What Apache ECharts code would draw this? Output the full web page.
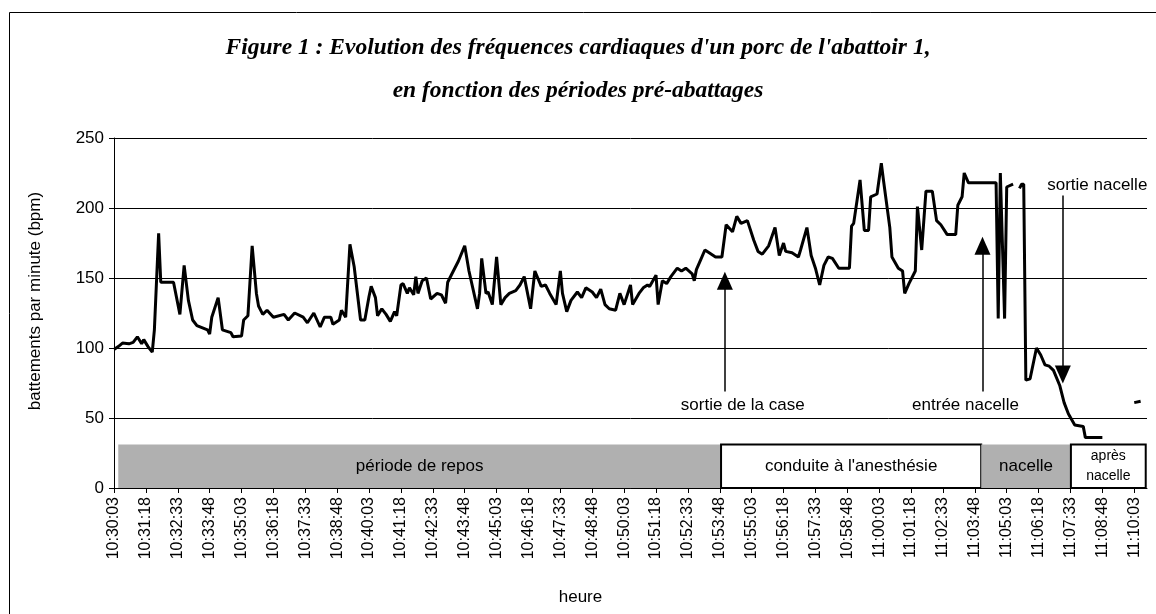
<!DOCTYPE html>
<html>
<head>
    <meta charset="utf-8">
    <script src="https://cdn.jsdelivr.net/npm/echarts@6.0.0/dist/echarts.min.js"></script>
</head>
<body style="margin:0;background:#fff;">
    <div id="main" style="width:1156px;height:614px;"></div>
    <script type="text/javascript">

// seconds after 10:30:03, and the heart rate read at that moment (null = no signal)
var secs = [0, 10, 20, 35, 45, 55, 65, 70, 80, 90,
    95, 105, 110, 140, 155, 165, 175, 185, 195, 220,
    225, 230, 245, 255, 275, 280, 300, 305, 315, 325,
    335, 340, 350, 360, 375, 400, 410, 425, 445, 455,
    470, 485, 495, 510, 515, 530, 535, 545, 555, 565,
    580, 590, 600, 605, 615, 620, 630, 640, 650, 660,
    665, 675, 680, 690, 695, 705, 710, 715, 725, 735,
    745, 760, 770, 780, 785, 795, 810, 825, 835, 855,
    860, 865, 875, 880, 890, 900, 910, 920, 930, 945,
    955, 965, 980, 990, 1005, 1015, 1025, 1040, 1050, 1055,
    1065, 1075, 1090, 1100, 1110, 1125, 1135, 1145, 1155, 1165,
    1180, 1190, 1200, 1215, 1220, 1235, 1245, 1255, 1260, 1275,
    1280, 1290, 1300, 1310, 1325, 1335, 1345, 1360, 1365, 1370,
    1380, 1390, 1400, 1415, 1430, 1440, 1455, 1465, 1475, 1490,
    1505, 1515, 1525, 1540, 1555, 1565, 1575, 1580, 1595, 1610,
    1615, 1630, 1640, 1650, 1660, 1670, 1680, 1690, 1705, 1730,
    1735, 1740, 1755, 1765, 1775, 1780, 1795, 1805, 1810, 1825,
    1830, 1845, 1855, 1860, 1870, 1885, 1890, 1900, 1910, 1925,
    1935, 1945, 1960, 1980, 1985, 1995, 2000, 2010, 2075, 2080,
    2085, 2095, 2100, 2115, 2120, 2130, 2135, 2140, 2145, 2155,
    2170, 2180, 2190, 2200, 2210, 2225, 2235, 2245, 2260, 2280,
    2285, 2325, 2330, 2400, 2415];
var bpm = [99, 101, 103.5, 103, 104, 108, 103, 106, 101, 97,
    113, 182, 147, 147, 124, 159, 134, 120, 116, 113,
    110, 122, 136, 113, 111, 108, 108.5, 120, 123, 173,
    139, 130, 124, 127, 122, 124, 120, 125, 122, 118,
    125, 115, 122, 122, 117, 120, 127, 122, 174, 158,
    120, 120, 137, 144, 136, 123, 128, 124, 119, 126,
    123, 145, 146, 139, 143, 138, 151, 139, 148, 150,
    135, 139, 138, 132, 147, 153, 162, 173, 155, 128,
    139, 164, 139, 140, 131, 165, 131, 136, 139, 141,
    145, 151, 128, 155, 144, 145, 139, 131, 155, 139,
    126, 134, 140, 136, 143, 140, 136, 142, 131, 128,
    127, 139, 131, 145, 131, 139, 143, 145, 144, 152,
    131, 148, 146, 151, 157, 155, 157, 153, 148, 156,
    163, 170, 168, 165, 165, 188, 183, 194, 189, 191,
    177, 169, 167, 173, 186, 166, 175, 169, 168, 165,
    170, 186, 166, 157, 145, 159, 165, 164, 157, 157,
    187, 189, 220, 184, 184, 208, 210, 232, 220, 186,
    165, 157, 155, 139, 146, 155, 201, 170, 212, 212,
    191, 188, 181, 181, 202, 208, 225, 218, 218, 121,
    225, 121, 215, 217, null, 214, 217, 217, 77, 78,
    100, 95, 88, 87, 84, 73, 61, 53, 45, 44,
    36, 36, null, 61, 62];

var tickLabels = ['10:30:03', '10:31:18', '10:32:33', '10:33:48', '10:35:03', '10:36:18',
    '10:37:33', '10:38:48', '10:40:03', '10:41:18', '10:42:33', '10:43:48', '10:45:03',
    '10:46:18', '10:47:33', '10:48:48', '10:50:03', '10:51:18', '10:52:33', '10:53:48',
    '10:55:03', '10:56:18', '10:57:33', '10:58:48', '11:00:03', '11:01:18', '11:02:33',
    '11:03:48', '11:05:03', '11:06:18', '11:07:33', '11:08:48', '11:10:03'];
var tickStep = 75; // seconds between two labels

// period boxes along the bottom (seconds)
var periodNames = ['période de repos', "conduite à l'anesthésie", 'nacelle', 'après\nnacelle'];
var periodFrom = [10, 1428, 2040, 2251];
var periodTo = [1428, 2040, 2251, 2427];
var periodGrey = [true, false, true, false];
var periodTop = 31;

// arrows: x position (s), tail and head (bpm)
var arrowAt = [1437, 2043, 2232];
var arrowTail = [69, 69, 209];
var arrowHead = [148, 173, 81];
var noteNames = ['sortie de la case', 'entrée nacelle', 'sortie nacelle'];
var noteAt = [1479, 2003, 2313];
var noteBpm = [59, 59, 216];

var lineData = secs.map(function (s, i) {
    return [s, bpm[i] === null ? '-' : bpm[i]];
});

var areas = periodNames.map(function (n, i) {
    var grey = periodGrey[i];
    return [{
        name: n,
        xAxis: periodFrom[i],
        yAxis: 0,
        itemStyle: grey ? { color: '#b0b0b0', borderWidth: 0 }
                        : { color: '#ffffff', borderColor: '#000', borderWidth: 2 },
        label: {
            fontSize: i == 3 ? 14 : 17,
            lineHeight: 20
        }
    }, {
        xAxis: periodTo[i],
        yAxis: periodTop
    }];
});

var arrows = arrowAt.map(function (x, i) {
    return [{ coord: [x, arrowTail[i]] }, { coord: [x, arrowHead[i]] }];
});

var notes = noteNames.map(function (n, i) {
    return { name: n, coord: [noteAt[i], noteBpm[i]] };
});

var font = 'Liberation Sans, Arial, sans-serif';

option = {
    animation: false,
    backgroundColor: '#fff',
    title: {
        text: "Figure 1 : Evolution des fréquences cardiaques d'un porc de l'abattoir 1,\nen fonction des périodes pré-abattages",
        left: 'center',
        top: 21,
        textStyle: {
            fontFamily: 'Liberation Serif, Times New Roman, serif',
            fontStyle: 'italic',
            fontWeight: 'bold',
            fontSize: 23.5,
            lineHeight: 43,
            color: '#000'
        }
    },
    graphic: [{
        type: 'rect',
        left: 7,
        top: 10,
        shape: { width: 1200, height: 700 },
        style: { fill: 'none', stroke: '#000', lineWidth: 1 },
        silent: true
    }],
    grid: { left: 114, right: 9, top: 138, bottom: 126 },
    xAxis: {
        type: 'value',
        min: 0,
        max: 2430,
        name: 'heure',
        nameLocation: 'middle',
        nameGap: 101,
        nameTextStyle: { fontFamily: font, fontSize: 17, color: '#000', padding: [0, 100, 0, 0] },
        splitLine: { show: false },
        axisLine: { lineStyle: { color: '#000', width: 1 } },
        axisTick: {
            customValues: tickLabels.map(function (t, i) { return i * tickStep; }),
            length: 5,
            lineStyle: { color: '#000' }
        },
        axisLabel: {
            customValues: tickLabels.map(function (t, i) { return i * tickStep; }),
            formatter: function (v) { return tickLabels[Math.round(v / tickStep)]; },
            rotate: 90,
            margin: 9,
            fontFamily: font,
            fontSize: 16,
            color: '#000'
        }
    },
    yAxis: {
        type: 'value',
        min: 0,
        max: 250,
        interval: 50,
        name: 'battements par minute (bpm)',
        nameLocation: 'middle',
        nameGap: 70,
        nameTextStyle: { fontFamily: font, fontSize: 17, color: '#000', padding: [0, 0, 0, 24] },
        axisLine: { show: true, lineStyle: { color: '#000', width: 1 } },
        axisTick: { show: true, length: 5, lineStyle: { color: '#000' } },
        axisLabel: { fontFamily: font, fontSize: 17, color: '#000', margin: 10 },
        splitLine: { lineStyle: { color: '#000', width: 1 } }
    },
    series: [{
        name: 'fréquence cardiaque',
        type: 'line',
        data: lineData,
        showSymbol: false,
        symbol: 'none',
        connectNulls: false,
        lineStyle: { color: '#000', width: 3 },
        markArea: {
            silent: true,
            label: {
                show: true,
                position: 'inside',
                formatter: '{b}',
                fontFamily: font,
                color: '#000'
            },
            data: areas
        }
    }, {
        name: 'notes',
        type: 'line',
        data: [],
        markLine: {
            silent: true,
            symbol: ['none', 'triangle'],
            symbolSize: [16, 18],
            lineStyle: { color: '#000', width: 1.5, type: 'solid' },
            itemStyle: { color: '#000' },
            label: { show: false },
            data: arrows
        },
        markPoint: {
            silent: true,
            symbol: 'rect',
            symbolSize: 1,
            itemStyle: { color: 'rgba(0,0,0,0)' },
            label: {
                show: true,
                position: 'inside',
                formatter: '{b}',
                fontFamily: font,
                fontSize: 17,
                color: '#000'
            },
            data: notes
        }
    }]
};

var myChart = echarts.init(document.getElementById('main'));
myChart.setOption(option);

    </script>
</body>
</html>
